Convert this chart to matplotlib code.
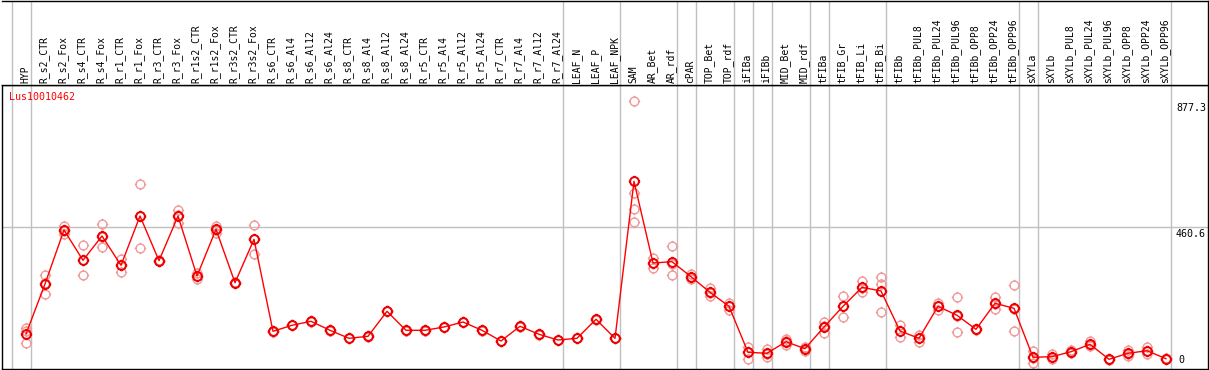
import matplotlib
matplotlib.use("Agg")
import matplotlib.pyplot as plt
from matplotlib.path import Path

title = 'Lus10010462'

labels = ['HYP', 'R_s2_CTR', 'R_s2_Fox', 'R_s4_CTR', 'R_s4_Fox', 'R_r1_CTR', 'R_r1_Fox',
          'R_r3_CTR', 'R_r3_Fox', 'R_r1s2_CTR', 'R_r1s2_Fox', 'R_r3s2_CTR', 'R_r3s2_Fox',
          'R_s6_CTR', 'R_s6_Al4', 'R_s6_Al12', 'R_s6_Al24', 'R_s8_CTR', 'R_s8_Al4',
          'R_s8_Al12', 'R_s8_Al24', 'R_r5_CTR', 'R_r5_Al4', 'R_r5_Al12', 'R_r5_Al24',
          'R_r7_CTR', 'R_r7_Al4', 'R_r7_Al12', 'R_r7_Al24', 'LEAF_N', 'LEAF_P', 'LEAF_NPK',
          'SAM', 'AR_Bet', 'AR_rdf', 'cPAR', 'TOP_Bet', 'TOP_rdf', 'iFIBa', 'iFIBb',
          'MID_Bet', 'MID_rdf', 'tFIBa', 'tFIB_Gr', 'tFIB_Li', 'tFIB_Bi', 'tFIBb',
          'tFIBb_PUL8', 'tFIBb_PUL24', 'tFIBb_PUL96', 'tFIBb_OPP8', 'tFIBb_OPP24',
          'tFIBb_OPP96', 'sXYLa', 'sXYLb', 'sXYLb_PUL8', 'sXYLb_PUL24', 'sXYLb_PUL96',
          'sXYLb_OPP8', 'sXYLb_OPP24', 'sXYLb_OPP96']

means = [108.8, 273.7, 451.7, 351.8, 431.9, 335.3, 497.8, 350.5, 497.8, 300.0, 454.0, 277.9, 421.0,
         117.7, 137.5, 150.7, 121.0, 94.6, 101.2, 183.6, 121.0, 121.0, 131.9, 148.4, 121.0,
         85.7, 134.2, 107.8, 89.0, 94.6, 157.3, 94.6,
         612.3, 342.9, 347.2, 297.7, 246.3, 200.1, 48.5, 45.2, 83.4, 60.3,
         131.9, 200.1, 262.8, 250.6, 118.7, 94.6, 200.1, 170.5, 124.3, 210.0, 193.5,
         32.0, 34.0, 50.4, 74.8, 25.4, 45.2, 53.7, 27.4]

reps = [[127.6, 80.1, 118.7], [303.3, 239.7, 278], [465.9, 438.5, 450], [401.2, 302.3, 352],
        [471.5, 394.7, 430], [356.1, 312.2, 337], [602.4, 391.4, 499], [353, 348, 350],
        [517.6, 473.8, 502], [308.9, 290.1, 301], [465.9, 442.8, 453], [280, 276, 278],
        [468.2, 372.6, 422],
        [118, 117, 118], [138, 137, 137], [151, 150, 151], [122, 120, 121], [95, 94, 95],
        [102, 100, 101], [184, 183, 184], [122, 120, 121], [122, 120, 121], [132, 131, 132],
        [149, 148, 148], [122, 120, 121], [86, 85, 86], [135, 133, 134], [108, 107, 108],
        [90, 88, 89], [95, 94, 95], [158, 156, 157], [95, 94, 95],
        [877.3, 574.7, 519.9, 477.1], [359.4, 327.4, 343], [398.9, 302.3, 341],
        [289.1, 306.6, 297.5], [261.4, 234.1, 244], [210, 187.9, 202], [66.9, 27.4, 51],
        [58.4, 34, 43], [92.3, 71.5, 86], [53.7, 66.9, 60],
        [148.4, 111.1, 136], [233.1, 165.8, 201], [283.5, 246.3, 259], [297.7, 273.7, 180.3],
        [138.5, 99.9, 118], [105.5, 82.4, 96], [212, 187.9, 200], [229.8, 114.4, 167],
        [126, 123, 124], [230.8, 191.2, 208], [269.4, 118.7, 192],
        [52.8, 12.2, 31], [42.9, 25.4, 34], [56, 46, 50], [84.7, 68, 72], [27, 24, 25],
        [56, 36.3, 44], [66.9, 42.9, 52], [29, 26, 27]]

# group separators sit just right of these categories
sep_after = [-1, 0, 28, 31, 34, 35, 37, 38, 39, 41, 42, 45, 52, 53, 60]
tick_vals = ['877.3', '460.6', '0']

W, H = 1209, 370
fig = plt.figure(figsize=(W / 100, H / 100), dpi=100)
plt.rcParams['font.family'] = ['DejaVu Sans Mono']


def box(l, t, r, b):
    return [l / W, 1 - b / H, (r - l) / W, (b - t) / H]


ax = fig.add_axes(box(1.5, 85, 1207.5, 369))
hd = fig.add_axes(box(1.5, 0.5, 1207.5, 85), sharex=ax)

# pixel layout: category i at x = 26 + 19*i, value 0 at y=367, 460.6 at y=227.3
px_per_val = (367 - 227.3) / 460.6
ax.set_xlim((1.5 - 26) / 19, (1207.5 - 26) / 19)
ax.set_ylim(-(369 - 367) / px_per_val, (367 - 85) / px_per_val)
hd.set_ylim(0, 1)

grid_c = '#c0c0c0'
for s in sep_after:
    ax.axvline(s + 0.24, color=grid_c, lw=1.0, zorder=0)
    hd.axvline(s + 0.24, color=grid_c, lw=1.0, zorder=0)
ax.axhline(460.6, color=grid_c, lw=1.0, zorder=0)

# marker: ring with four small ticks
ring = Path.make_compound_path(
    Path.unit_circle(),
    *[Path([(dx, dy), (dx * 1.3, dy * 1.3)], [Path.MOVETO, Path.LINETO])
      for dx, dy in [(0, 1), (0, -1), (1, 0), (-1, 0)]])

x = list(range(len(labels)))
for i, r in enumerate(reps):
    ax.plot([i] * len(r), r, linestyle='none', marker=ring, ms=8.2, mew=1.0,
            mfc='none', mec='#f09a9a', zorder=2)
ax.plot(x, means, color='#ff0000', lw=1.0, zorder=3)
ax.plot(x, means, linestyle='none', marker=ring, ms=8.2, mew=1.4,
        mfc='none', mec='#ee0000', zorder=4)

for a in (ax, hd):
    a.set_xticks([])
    a.set_yticks([])
    for sp in a.spines.values():
        sp.set_color('black')
        sp.set_linewidth(1.0)
hd.spines['left'].set_visible(False)

for i, lab in enumerate(labels):
    hd.text(i - 0.05, (85 - 83) / 84.5, lab, rotation=90, ha='center', va='bottom',
            fontsize=7.0, color='black')

fig.text(9.5 / W, 1 - 97 / H, title, color='#ff0000', fontsize=7.2, va='center', ha='left')
fig.text(1176 / W, 1 - 103 / H, tick_vals[0], fontsize=7.2, va='top', ha='left')
fig.text(1176 / W, 1 - 229 / H, tick_vals[1], fontsize=7.2, va='top', ha='left')
fig.text(1178 / W, 1 - 365 / H, tick_vals[2], fontsize=7.2, va='bottom', ha='left')

fig.savefig('out.png', dpi=100)
